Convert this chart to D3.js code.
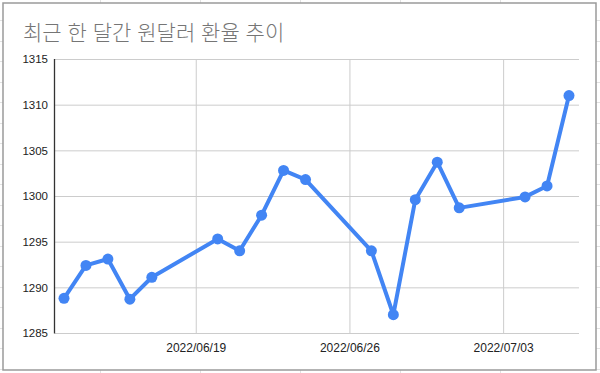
<!DOCTYPE html>
<html lang="ko">
<head>
<meta charset="UTF-8">
<title>최근 한 달간 원달러 환율 추이</title>
<style>
  body { margin: 0; background: #fff; }
  svg { display: block; }
</style>
</head>
<body>
<svg width="600" height="373"></svg>
<script src="https://d3js.org/d3.v7.min.js"></script>
<script>
// 날짜와 환율
const dates = ["2022-06-13","2022-06-14","2022-06-15","2022-06-16","2022-06-17",
  "2022-06-20","2022-06-21","2022-06-22","2022-06-23","2022-06-24",
  "2022-06-27","2022-06-28","2022-06-29","2022-06-30","2022-07-01",
  "2022-07-04","2022-07-05","2022-07-06"];
const rates = [1288.8, 1292.4, 1293.1, 1288.7, 1291.1,
  1295.3, 1294.0, 1297.9, 1302.8, 1301.8,
  1294.0, 1287.0, 1299.6, 1303.7, 1298.7,
  1299.9, 1301.1, 1311.0];
const yTicks = [1285, 1290, 1295, 1300, 1305, 1310, 1315];
const xTickDates = ["2022-06-19", "2022-06-26", "2022-07-03"];
const title = "최근 한 달간 원달러 환율 추이";

const parse = d3.timeParse("%Y-%m-%d");
const data = dates.map((d, i) => ({ date: parse(d), value: rates[i] }));

const svg = d3.select("svg");

// 배경 스프레드시트 격자 (테두리 바깥에 살짝 보임)
const bg = svg.append("g").attr("stroke", "#e2e2e2").attr("stroke-width", 1);
d3.range(100, 600, 100).forEach(x => bg.append("line")
  .attr("x1", x + 0.5).attr("x2", x + 0.5).attr("y1", 0).attr("y2", 373));
d3.range(20, 373, 20.5).forEach(y => bg.append("line")
  .attr("x1", 0).attr("x2", 600).attr("y1", Math.round(y) + 0.5).attr("y2", Math.round(y) + 0.5));

// 차트 영역
svg.append("rect")
  .attr("x", 3).attr("y", 3).attr("width", 593).attr("height", 367)
  .attr("fill", "#fff").attr("stroke", "#9a9a9a").attr("stroke-width", 1.5);

svg.append("text")
  .attr("x", 23).attr("y", 40)
  .attr("font-family", "'Noto Sans CJK KR', sans-serif")
  .attr("font-size", 21)
  .attr("font-weight", 300)
  .attr("fill", "#757575")
  .text(title);

const plot = { left: 55, right: 579, top: 59, bottom: 333 };

// 첫 날짜/마지막 날짜가 놓이는 위치에 맞춰 축 범위를 잡음
const x = d3.scaleTime()
  .domain([parse(dates[0]), parse(dates[dates.length - 1])])
  .range([64, 569]);
const y = d3.scaleLinear().domain([1285, 1315]).range([plot.bottom, plot.top]);

// 가로 격자 + y 라벨
const yAxis = d3.axisLeft(y).tickValues(yTicks).tickFormat(d3.format("d"))
  .tickSize(-(plot.right - plot.left)).tickPadding(7);
svg.append("g")
  .attr("transform", `translate(${plot.left},0)`)
  .call(yAxis)
  .call(g => g.select(".domain").remove())
  .call(g => g.selectAll(".tick line").attr("stroke", "#cccccc"))
  .call(g => g.selectAll(".tick text")
    .attr("font-family", "Arial, 'Liberation Sans', sans-serif")
    .attr("font-size", 11.5).attr("fill", "#222"));

// 세로 격자 + x 라벨
const xAxis = d3.axisBottom(x)
  .tickValues(xTickDates.map(parse))
  .tickFormat(d3.timeFormat("%Y/%m/%d"))
  .tickSize(-(plot.bottom - plot.top)).tickPadding(10);
svg.append("g")
  .attr("transform", `translate(0,${plot.bottom})`)
  .call(xAxis)
  .call(g => g.select(".domain").remove())
  .call(g => g.selectAll(".tick line").attr("stroke", "#cccccc"))
  .call(g => g.selectAll(".tick text")
    .attr("font-family", "Arial, 'Liberation Sans', sans-serif")
    .attr("font-size", 12).attr("fill", "#222"));

// 왼쪽 기준선
svg.append("line")
  .attr("x1", plot.left - 0.5).attr("x2", plot.left - 0.5)
  .attr("y1", plot.top).attr("y2", plot.bottom + 0.5)
  .attr("stroke", "#333").attr("stroke-width", 1.3);

// 선과 점
const line = d3.line().x(d => x(d.date)).y(d => y(d.value));
svg.append("path")
  .datum(data)
  .attr("d", line)
  .attr("fill", "none")
  .attr("stroke", "#4285f4")
  .attr("stroke-width", 4)
  .attr("stroke-linejoin", "round");

svg.append("g").selectAll("circle")
  .data(data)
  .enter()
  .append("circle")
  .attr("cx", d => x(d.date))
  .attr("cy", d => y(d.value))
  .attr("r", 5.5)
  .attr("fill", "#4285f4");
</script>
</body>
</html>
